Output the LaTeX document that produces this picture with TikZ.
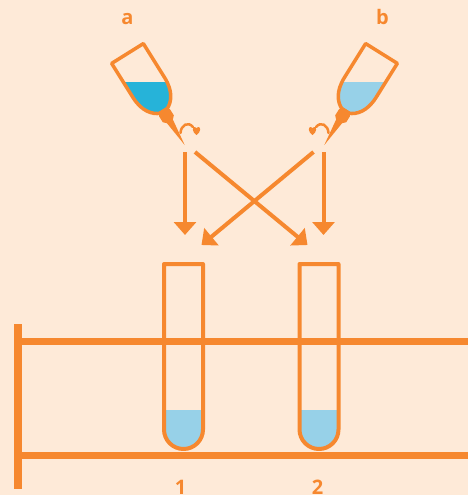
\documentclass[tikz,border=0pt]{standalone}
\usepackage{fontspec}
\usepackage{tikz}
\usetikzlibrary{arrows.meta}
\setmainfont{Open Sans}
\definecolor{paper}{RGB}{254,234,216}
\definecolor{orng}{RGB}{246,136,47}
\definecolor{cyanliq}{RGB}{38,179,217}
\definecolor{paleliq}{RGB}{151,209,232}

\newcommand{\flaskpath}{(-18.7,0) -- (18.7,0) -- (18.7,40) .. controls (18.7,57) and (11,65) .. (4,68) -- (-4,68) .. controls (-11,65) and (-18.7,57) .. (-18.7,40) -- cycle}
\newcommand{\nozzlepath}{(-4,66) -- (-6.5,70) -- (-6.5,77) -- (-3.5,80) -- (0,108) -- (3.5,80) -- (6.5,77) -- (6.5,70) -- (4,66) -- cycle}
\newcommand{\dropper}[1]{%
\begin{scope}
\clip[shift={(127.5,53.5)}, rotate=32] \flaskpath;
\fill[#1] (90,82) rectangle (200,140);
\end{scope}
\draw[flask, shift={(127.5,53.5)}, rotate=32] \flaskpath;
\fill[orng, shift={(127.5,53.5)}, rotate=32] \nozzlepath;
\draw[draw=orng, line width=2.5, line cap=round] (180.5,133) .. controls (181,125) and (188,121) .. (193,127);
\fill[orng] (196.5,135) .. controls (192,132) and (192,127) .. (194.5,127) .. controls (195.8,127) and (196.5,128) .. (196.5,128.8) .. controls (196.5,128) and (197.2,127) .. (198.5,127) .. controls (201,127) and (201,132) .. (196.5,135) -- cycle;
}

\begin{document}
\begin{tikzpicture}[x=1pt, y=-1pt,
  flask/.style={draw=orng, line width=3.5, line join=round},
  tubeline/.style={draw=orng, line width=4, line join=round},
  bar/.style={draw=orng, line width=7},
  arr/.style={draw=orng, line width=4, -{Triangle[length=13pt, width=22pt]}},
  lbl/.style={text=orng, font=\fontsize{20}{20}\selectfont\bfseries, inner sep=0pt, anchor=base}]
\useasboundingbox (0,0) rectangle (468,495);
\fill[paper] (0,0) rectangle (468,495);

\dropper{cyanliq}
\begin{scope}[shift={(509,0)}, xscale=-1]
\dropper{paleliq}
\end{scope}

\node[lbl] (la) at (127.5,25) {a};
\node[lbl] (lb) at (382.5,25) {b};

\coordinate (Aout) at (185,152);
\coordinate (Axout) at (195,152);
\coordinate (Bout) at (323.5,152);
\coordinate (Bxout) at (313.5,152);
\coordinate (T1in) at (185,235);
\coordinate (T1x) at (201.5,245);
\coordinate (T2in) at (323.5,235);
\coordinate (T2x) at (307.5,245);
\draw[arr] (Aout) -- (T1in);
\draw[arr] (Bout) -- (T2in);
\draw[arr] (Axout) -- (T2x);
\draw[arr] (Bxout) -- (T1x);

\draw[draw=orng, line width=8] (18,324) -- (18,489);
\draw[bar] (22,341.5) -- (470,341.5);
\draw[bar] (22,455.5) -- (470,455.5);

\fill[paleliq] (164,410) -- (203,410) -- (203,429.5) arc[start angle=0, end angle=-180, radius=19.5pt] -- cycle;
\draw[tubeline] (164,429.5) -- (164,264) -- (203,264) -- (203,429.5) arc[start angle=0, end angle=-180, radius=19.5pt] -- cycle;
\fill[paleliq] (299.5,410) -- (338.5,410) -- (338.5,429.5) arc[start angle=0, end angle=-180, radius=19.5pt] -- cycle;
\draw[tubeline] (299.5,429.5) -- (299.5,264) -- (338.5,264) -- (338.5,429.5) arc[start angle=0, end angle=-180, radius=19.5pt] -- cycle;

\node[lbl] (l1) at (180.5,494) {1};
\node[lbl] (l2) at (317.5,494) {2};
\end{tikzpicture}
\end{document}
